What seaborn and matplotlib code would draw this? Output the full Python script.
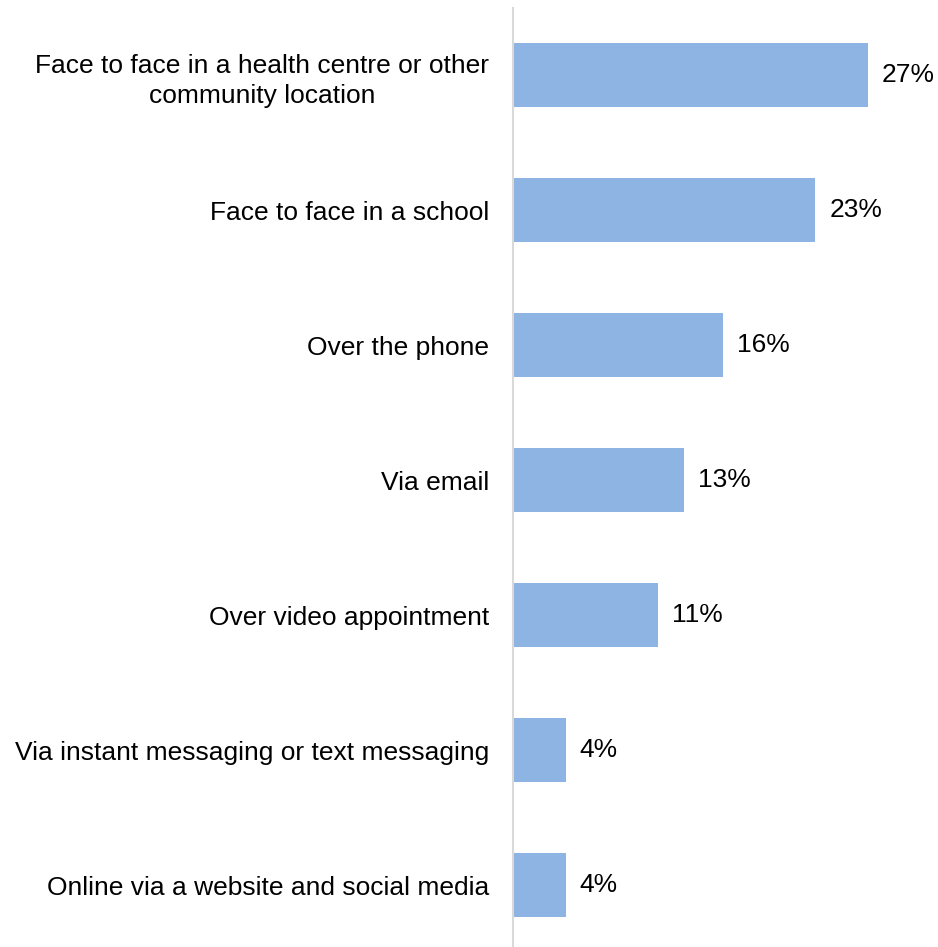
import matplotlib
matplotlib.use("Agg")
import matplotlib.pyplot as plt
import seaborn as sns
import pandas as pd

categories = [
    "Face to face in a health centre or other\ncommunity location",
    "Face to face in a school",
    "Over the phone",
    "Via email",
    "Over video appointment",
    "Via instant messaging or text messaging",
    "Online via a website and social media",
]
values = [27, 23, 16, 13, 11, 4, 4]

df = pd.DataFrame({"channel": categories, "pct": values})

sns.set_theme(style="white")
plt.rcParams["font.family"] = ["Liberation Sans", "DejaVu Sans"]

fig = plt.figure(figsize=(9.38, 9.47), dpi=100)
ax = fig.add_axes([513 / 938, -5.5 / 947, 394.5 / 938, 1 - 2.0 / 947])

sns.barplot(data=df, x="pct", y="channel", color="#8DB4E2", saturation=1,
            width=0.47, ax=ax, orient="h")

for patch in ax.patches:
    patch.set_edgecolor("none")

for container in ax.containers:
    ax.bar_label(container, labels=[f"{v}%" for v in values], padding=10,
                 fontsize=19, color="#000000")

ax.set_xlim(0, 30)
ax.set_ylim(6.5, -0.5)
ax.set_xlabel("")
ax.set_ylabel("")
ax.set_xticks([])
ax.tick_params(axis="y", length=0, pad=17, labelsize=19, labelcolor="#000000")
for lbl in ax.get_yticklabels():
    lbl.set_horizontalalignment("right")
    lbl.set_multialignment("center")
    lbl.set_linespacing(1.32)

for side in ["top", "right", "bottom"]:
    ax.spines[side].set_visible(False)
ax.spines["left"].set_color("#D9D9D9")
ax.spines["left"].set_linewidth(1.5)

fig.savefig("out.png", dpi=100, facecolor="white")
